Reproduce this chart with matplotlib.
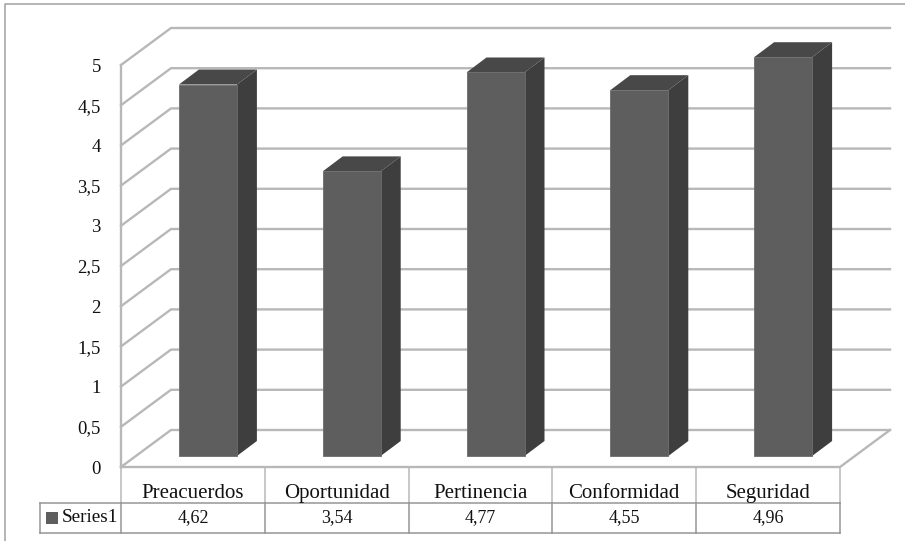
import matplotlib
matplotlib.use("Agg")
from matplotlib import pyplot as plt
from matplotlib.patches import Polygon, Rectangle

plt.rcParams['font.family'] = ['Liberation Serif', 'DejaVu Serif']

categorias = ['Preacuerdos', 'Oportunidad', 'Pertinencia', 'Conformidad', 'Seguridad']
valores = [4.62, 3.54, 4.77, 4.55, 4.96]
etiquetas_valores = ['4,62', '3,54', '4,77', '4,55', '4,96']
serie = 'Series1'
ticks_y = [0, 0.5, 1, 1.5, 2, 2.5, 3, 3.5, 4, 4.5, 5]
etiquetas_y = ['0', '0,5', '1', '1,5', '2', '2,5', '3', '3,5', '4', '4,5', '5']

W, H = 905, 541
GRIGLIA = '#b8b8b8'
BORDO = '#969696'
FRONTE = '#5e5e5e'
LATO = '#3e3e3e'
SOPRA = '#484848'
TESTO = '#111111'

# profondita' della scena 3D in unita' dati
px_x = 719 / 5
px_y = 402 / 5
prof_x = 50 / px_x
prof_y = 37 / px_y

fig = plt.figure(figsize=(W / 100, H / 100), dpi=100)

# livello in pixel per cornice e tabella
sfondo = fig.add_axes([0, 0, 1, 1])
sfondo.set_xlim(0, W)
sfondo.set_ylim(H, 0)
sfondo.axis('off')
sfondo.plot([4.5, 4.5, W], [H, 3.5, 3.5], color='#a0a0a0', lw=1.1)

ax = fig.add_axes([121 / W, 1 - 467 / H, 719 / W, 402 / H])
ax.patch.set_visible(False)
ax.set_xlim(0, 5)
ax.set_ylim(0, 5)
for s in ax.spines.values():
    s.set_visible(False)

# griglia su parete sinistra e di fondo
for t in ticks_y:
    ax.plot([0, prof_x, 5 + prof_x], [t, t + prof_y, t + prof_y],
            color=GRIGLIA, lw=1.7, clip_on=False, zorder=1, solid_joinstyle='miter')
ax.plot([0, 0], [0, 5], color=GRIGLIA, lw=1.7, clip_on=False, zorder=1)
ax.plot([0, 5, 5 + prof_x], [0, 0, prof_y], color=GRIGLIA, lw=1.7, clip_on=False, zorder=1)

# barre 3D
larg = 58 / px_x
for i, v in enumerate(valores):
    x0 = i + 0.5 - larg / 2 + 15 / px_x
    x1 = x0 + larg
    y0 = 11 / px_y
    top = y0 + v
    ox = 20 / px_x
    oy = 15 / px_y
    ax.add_patch(Polygon([(x1, y0), (x1 + ox, y0 + oy), (x1 + ox, top + oy), (x1, top)],
                         fc=LATO, ec='none', clip_on=False, zorder=3))
    ax.add_patch(Polygon([(x0, top), (x0 + ox, top + oy), (x1 + ox, top + oy), (x1, top)],
                         fc=SOPRA, ec='none', clip_on=False, zorder=3))
    ax.add_patch(Rectangle((x0, y0), larg, v, fc=FRONTE, ec='#6c6c6c', lw=0.6,
                           clip_on=False, zorder=4))

ax.set_yticks(ticks_y)
ax.set_yticklabels(etiquetas_y, fontsize=13.5, color=TESTO)
ax.set_xticks([i + 0.5 for i in range(len(categorias))])
ax.set_xticklabels(categorias, fontsize=15, color=TESTO)
ax.tick_params(axis='y', length=0, pad=14.5)
ax.tick_params(axis='x', length=0, pad=12.5)

# tabella dati sotto il grafico
x_col = [121 + i * px_x for i in range(len(categorias) + 1)]
for x in x_col:
    sfondo.plot([x, x], [467, 503], color=GRIGLIA, lw=1.1)
    sfondo.plot([x, x], [503, 533], color=BORDO, lw=1.1)
sfondo.plot([40, 40], [503, 533], color=BORDO, lw=1.1)
sfondo.plot([40, 840], [503, 503], color=BORDO, lw=1.1)
sfondo.plot([40, 840], [533, 533], color=BORDO, lw=1.1)
sfondo.add_patch(Rectangle((46, 512), 12, 12, fc=FRONTE, ec='none'))
sfondo.text(62, 517.5, serie, fontsize=13.8, color=TESTO, va='center', ha='left')
for i, et in enumerate(etiquetas_valores):
    sfondo.text((x_col[i] + x_col[i + 1]) / 2, 517.5, et, fontsize=13, color=TESTO,
                va='center', ha='center')

fig.savefig('out.png', dpi=100)
